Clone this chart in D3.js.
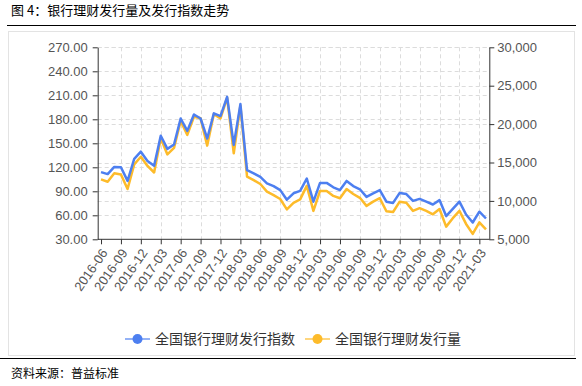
<!DOCTYPE html>
<html>
<head>
<meta charset="utf-8">
<script src="https://cdn.jsdelivr.net/npm/d3@7"></script>
<style>
  body { margin: 0; background: #fff; }
  svg { display: block; font-family: "Open Sans", "Noto Sans CJK SC", sans-serif; }
</style>
</head>
<body>
<div id="chart"></div>
<script>
// months on the category axis
const months = [
  "2016-06","2016-07","2016-08","2016-09","2016-10","2016-11","2016-12",
  "2017-01","2017-02","2017-03","2017-04","2017-05","2017-06","2017-07","2017-08","2017-09","2017-10","2017-11","2017-12",
  "2018-01","2018-02","2018-03","2018-04","2018-05","2018-06","2018-07","2018-08","2018-09","2018-10","2018-11","2018-12",
  "2019-01","2019-02","2019-03","2019-04","2019-05","2019-06","2019-07","2019-08","2019-09","2019-10","2019-11","2019-12",
  "2020-01","2020-02","2020-03","2020-04","2020-05","2020-06","2020-07","2020-08","2020-09","2020-10","2020-11","2020-12",
  "2021-01","2021-02","2021-03","2021-04"
];

// 全国银行理财发行指数 (left axis)
const indexValues = [
  114, 111.5, 120.5, 120, 103, 130.5, 139.5,
  128, 122, 159.5, 143, 148.5, 181, 165.5, 186, 181, 156, 187.5, 184,
  208, 148, 199, 116.5, 112.5, 108, 100, 96.5, 91.5, 79.5, 87.5, 90.5,
  106, 77, 100.5, 100.5, 95, 91.5, 103, 96.5, 92.5, 83, 87.5, 91.5,
  77, 75.5, 88, 86.5, 78, 80.5, 77, 73.5, 79, 59, 68, 77,
  61, 51, 64.5, 56
];

// 全国银行理财发行量 (right axis)
const volumeValues = [
  12800, 12500, 13600, 13450, 11550, 14750, 15750,
  14550, 13700, 18150, 16050, 16900, 20400, 18600, 20950, 20750, 17200, 21300, 20750,
  23450, 16200, 22400, 13150, 12700, 12200, 11200, 10750, 10250, 8900, 9750, 10200,
  11950, 8700, 11300, 11300, 10650, 10350, 11550, 10900, 10400, 9350, 9900, 10350,
  8650, 8550, 9900, 9750, 8700, 9050, 8700, 8250, 8950, 6650, 7750, 8700,
  7000, 5700, 7200, 6300
];

const leftTicks = [30, 60, 90, 120, 150, 180, 210, 240, 270];
const rightTicks = [5000, 10000, 15000, 20000, 25000, 30000];
const xTickLabels = months.filter((d, i) => i % 3 === 0);

const seriesNames = ["全国银行理财发行指数", "全国银行理财发行量"];
const colors = ["#4d7ff0", "#fdbb2a"];

const width = 582;
const height = 386;
const plot = { left: 97.7, right: 489.3, top: 47.3, bottom: 239.3 };

const svg = d3.select("#chart").append("svg")
  .attr("width", width)
  .attr("height", height)
  .attr("viewBox", `0 0 ${width} ${height}`);

// title + rules
svg.append("text")
  .attr("x", 11).attr("y", 15)
  .attr("font-family", "Noto Sans CJK SC")
  .attr("font-size", 13)
  .attr("fill", "#000")
  .text("图 4：银行理财发行量及发行指数走势");

svg.append("line")
  .attr("x1", 7).attr("x2", 576).attr("y1", 25.5).attr("y2", 25.5)
  .attr("stroke", "#000").attr("stroke-width", 1);

svg.append("rect")
  .attr("x", 8.5).attr("y", 31.5).attr("width", 566).attr("height", 324)
  .attr("fill", "none").attr("stroke", "#e3e3e3");

svg.append("line")
  .attr("x1", 0).attr("x2", 576).attr("y1", 358.5).attr("y2", 358.5)
  .attr("stroke", "#000").attr("stroke-width", 1);

svg.append("text")
  .attr("x", 11).attr("y", 378)
  .attr("font-family", "Noto Sans CJK SC")
  .attr("font-size", 12)
  .attr("fill", "#000")
  .text("资料来源：普益标准");

// scales
const x = d3.scalePoint().domain(months).range([plot.left, plot.right]).padding(0.5);
const yL = d3.scaleLinear().domain([30, 270]).range([plot.bottom, plot.top]);
const yR = d3.scaleLinear().domain([5000, 30000]).range([plot.bottom, plot.top]);

// grid
const grid = svg.append("g")
  .attr("stroke", "#dcdcdc").attr("stroke-dasharray", "4,3").attr("stroke-width", 1);

grid.selectAll(".gl").data(leftTicks.slice(1)).enter().append("line")
  .attr("x1", plot.left).attr("x2", plot.right)
  .attr("y1", d => Math.round(yL(d)) + 0.5).attr("y2", d => Math.round(yL(d)) + 0.5);

grid.selectAll(".gr").data(rightTicks.slice(1)).enter().append("line")
  .attr("x1", plot.left).attr("x2", plot.right)
  .attr("y1", d => Math.round(yR(d)) + 0.5).attr("y2", d => Math.round(yR(d)) + 0.5);

grid.selectAll(".gx").data(xTickLabels.slice(1)).enter().append("line")
  .attr("x1", d => Math.round(x(d)) + 0.5).attr("x2", d => Math.round(x(d)) + 0.5)
  .attr("y1", plot.top).attr("y2", plot.bottom);

// axes
const axisColor = "#333";
const labelColor = "#555";

const styleAxis = g => {
  g.select(".domain").attr("stroke", axisColor);
  g.selectAll(".tick line").attr("stroke", axisColor);
  g.selectAll(".tick text").attr("fill", labelColor).attr("font-size", 13);
};

svg.append("g")
  .attr("transform", `translate(${plot.left},0)`)
  .call(d3.axisLeft(yL).tickValues(leftTicks).tickFormat(d3.format(".2f")).tickSize(5).tickSizeOuter(0))
  .call(styleAxis)
  .call(g => g.selectAll(".tick text").attr("x", -10));

svg.append("g")
  .attr("transform", `translate(${plot.right},0)`)
  .call(d3.axisRight(yR).tickValues(rightTicks).tickFormat(d3.format(",")).tickSize(5).tickSizeOuter(0))
  .call(styleAxis)
  .call(g => g.selectAll(".tick text").attr("x", 8));

svg.append("g")
  .attr("transform", `translate(0,${plot.bottom})`)
  .call(d3.axisBottom(x).tickValues(xTickLabels).tickSize(5).tickSizeOuter(0))
  .call(styleAxis)
  .call(g => g.select(".domain").attr("d", `M${plot.left},0H${plot.right}`))
  .call(g => g.selectAll(".tick text")
    .attr("font-size", 13)
    .attr("x", 0).attr("y", 0).attr("dy", "0.35em")
    .attr("text-anchor", "end")
    .attr("transform", "translate(3,11) rotate(-55)"));

// lines
const lineL = d3.line().x((d, i) => x(months[i])).y(d => yL(d));
const lineR = d3.line().x((d, i) => x(months[i])).y(d => yR(d));

svg.append("path")
  .datum(volumeValues)
  .attr("fill", "none")
  .attr("stroke", colors[1])
  .attr("stroke-width", 2.5)
  .attr("stroke-linejoin", "round")
  .attr("d", lineR);

svg.append("path")
  .datum(indexValues)
  .attr("fill", "none")
  .attr("stroke", colors[0])
  .attr("stroke-width", 2.5)
  .attr("stroke-linejoin", "round")
  .attr("d", lineL);

// legend
const legendX = [125, 305];
const legend = svg.selectAll(".legend").data(seriesNames).enter().append("g")
  .attr("class", "legend")
  .attr("transform", (d, i) => `translate(${legendX[i]},339)`);

legend.append("line")
  .attr("x1", 0).attr("x2", 25).attr("y1", 0).attr("y2", 0)
  .attr("stroke", (d, i) => colors[i]).attr("stroke-opacity", 0.6).attr("stroke-width", 2);

legend.append("circle")
  .attr("cx", 12.5).attr("cy", 0).attr("r", 5)
  .attr("fill", (d, i) => colors[i]);

legend.append("text")
  .attr("x", 30).attr("y", 0).attr("dy", "0.35em")
  .attr("font-family", "Noto Sans CJK SC")
  .attr("font-size", 14)
  .attr("fill", "#333")
  .text(d => d);
</script>
</body>
</html>
